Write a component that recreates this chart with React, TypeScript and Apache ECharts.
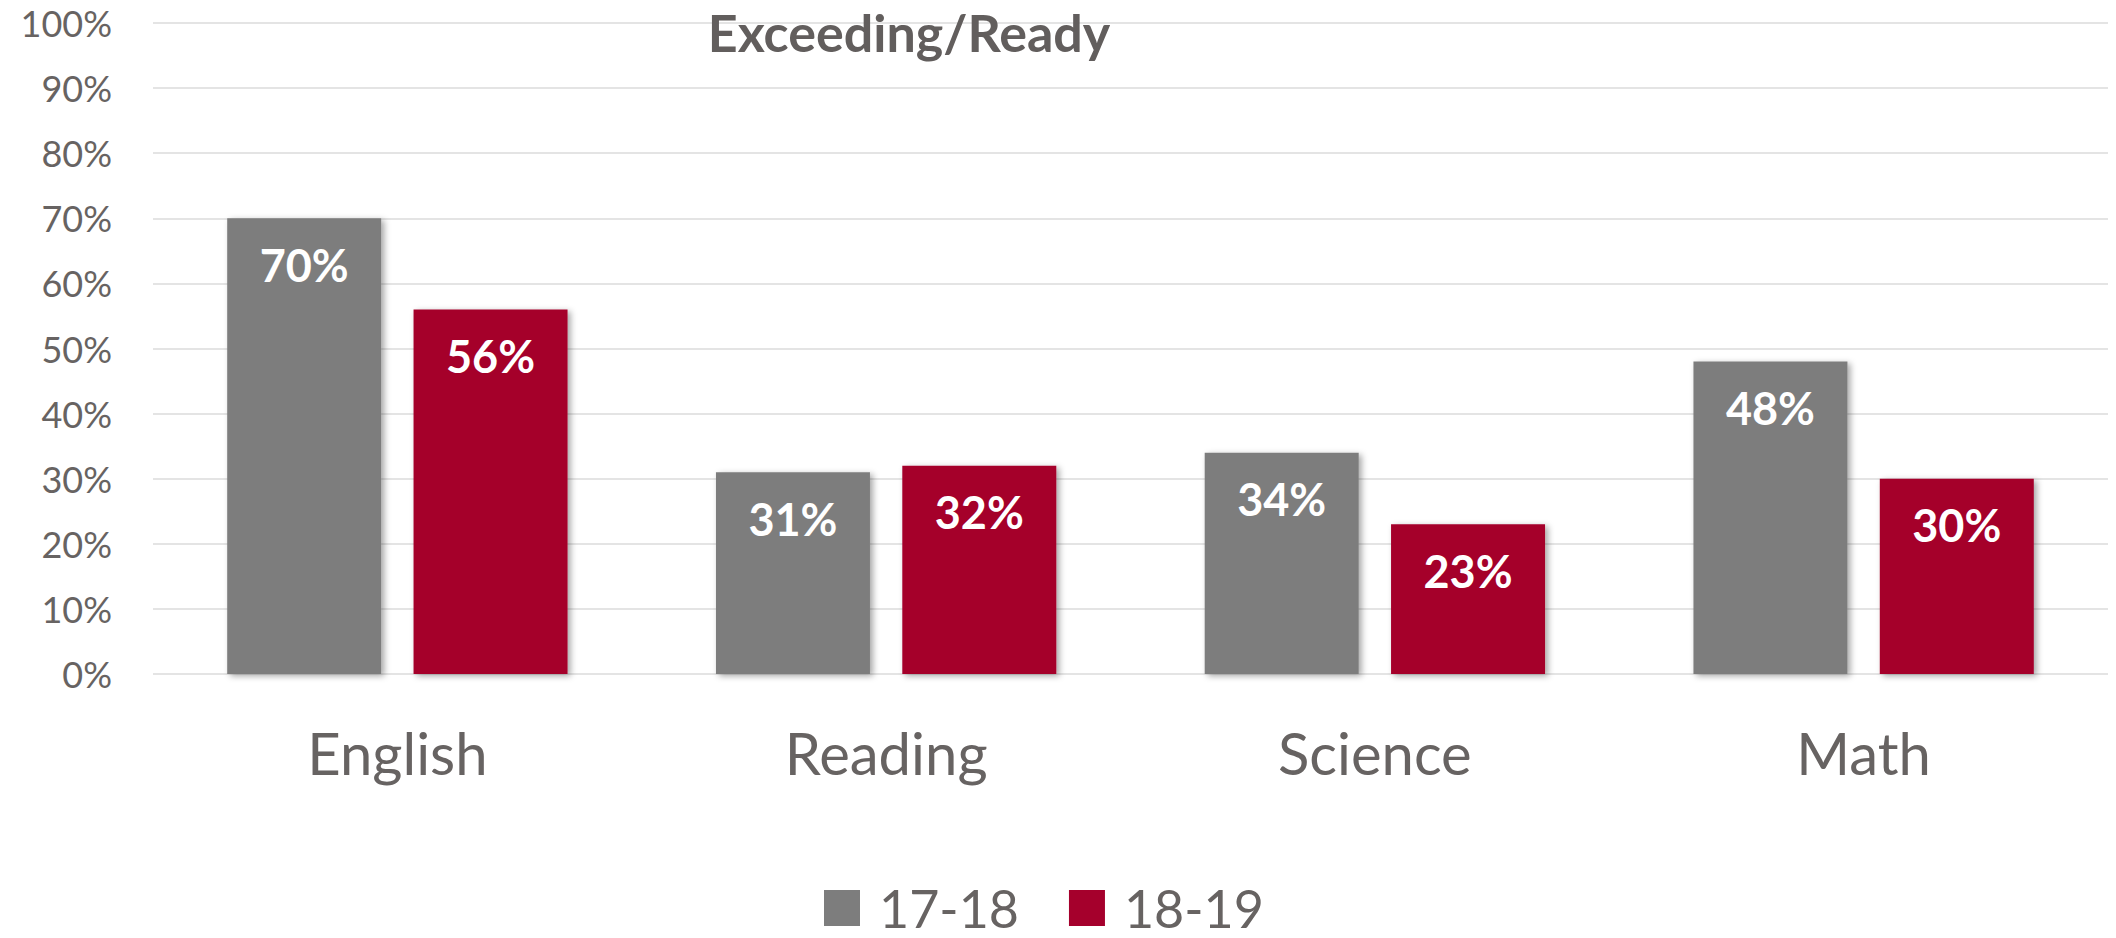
import React, { useEffect, useRef } from "react";
import * as echarts from "echarts";

const categories = ["English", "Reading", "Science", "Math"];
const series1718 = [70, 31, 34, 48];
const series1819 = [56, 32, 23, 30];
const seriesNames = ["17-18", "18-19"];
const titleText = "Exceeding/Ready";

const GRAY = "#7d7d7d";
const RED = "#a5002c";
const TEXT = "#676362";
const FONT = "Lato";

export default function App() {
  const ref = useRef<HTMLDivElement>(null);
  useEffect(() => {
    if (!ref.current) return;
    const chart = echarts.init(ref.current, null, { renderer: "svg" });
    const barStyle = (color: string) => ({
      color,
      shadowColor: "rgba(0,0,0,0.35)",
      shadowBlur: 6,
      shadowOffsetX: 3,
      shadowOffsetY: 2,
    });
    const label = {
      show: true,
      position: "insideTop",
      distance: 24,
      color: "#ffffff",
      fontFamily: FONT,
      fontWeight: "bold",
      fontSize: 45,
      formatter: (p: any) => `${p.value}%`,
    };
    chart.setOption({
      animation: false,
      backgroundColor: "#ffffff",
      grid: { left: 153, right: 8, top: 23, bottom: 264, containLabel: false },
      graphic: [
        {
          type: "text",
          x: 909,
          y: 32,
          z: 10,
          style: {
            text: titleText,
            fill: "#625e5d",
            font: `bold 52px ${FONT}`,
            textAlign: "center",
            textVerticalAlign: "middle",
          },
        },
      ],
      legend: {
        left: 819,
        top: 877,
        itemWidth: 36,
        itemHeight: 36,
        itemGap: 50,
        icon: "rect",
        textStyle: {
          color: TEXT,
          fontFamily: FONT,
          fontSize: 52,
          lineHeight: 50,
          padding: [0, 0, 0, 14],
        },
        data: seriesNames,
      },
      xAxis: {
        type: "category",
        data: categories,
        axisLine: { show: false },
        axisTick: { show: false },
        axisLabel: {
          color: TEXT,
          fontFamily: FONT,
          fontSize: 58,
          margin: 49,
        },
      },
      yAxis: {
        type: "value",
        min: 0,
        max: 100,
        interval: 10,
        axisLine: { show: false },
        axisTick: { show: false },
        splitLine: { lineStyle: { color: "#e4e4e4", width: 2 } },
        axisLabel: {
          color: TEXT,
          fontFamily: FONT,
          fontSize: 36,
          margin: 41,
          formatter: (v: number) => `${v}%`,
        },
      },
      series: [
        {
          name: seriesNames[0],
          type: "bar",
          data: series1718,
          barWidth: 154,
          barGap: "21%",
          itemStyle: barStyle(GRAY),
          label,
        },
        {
          name: seriesNames[1],
          type: "bar",
          data: series1819,
          barWidth: 154,
          barGap: "21%",
          itemStyle: barStyle(RED),
          label,
        },
      ],
    });
    return () => chart.dispose();
  }, []);
  return (
    <div
      ref={ref}
      style={{ position: "fixed", left: 0, top: 0, width: 2116, height: 938 }}
    />
  );
}
